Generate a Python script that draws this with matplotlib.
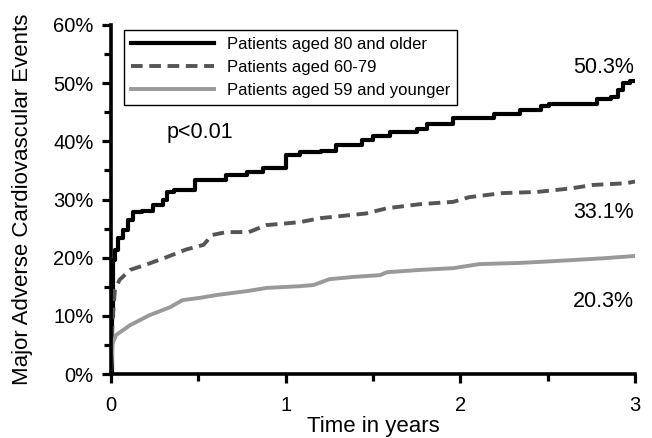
import matplotlib
matplotlib.use("Agg")
import matplotlib.pyplot as plt
from matplotlib.ticker import MultipleLocator, PercentFormatter

plt.rcParams['font.family'] = ['Liberation Sans', 'DejaVu Sans']

# patients aged 80 and older
t_old = [0, 0.005, 0.01, 0.023, 0.04, 0.07, 0.10, 0.126, 0.18, 0.24, 0.30, 0.32, 0.36, 0.48, 0.64,
         0.66, 0.78, 0.87, 0.97, 1.0, 1.08, 1.2, 1.29, 1.44, 1.50, 1.60, 1.75, 1.81, 1.96, 2.17, 2.19,
         2.34, 2.46, 2.51, 2.76, 2.78, 2.86, 2.90, 2.93, 2.97, 3.0]
y_old = [0, 10, 19.6, 21.3, 23.4, 24.7, 26.5, 27.8, 28.0, 29.0, 29.9, 31.3, 31.6, 33.3, 33.3,
         34.2, 34.7, 35.4, 35.5, 37.6, 38.1, 38.4, 39.3, 40.2, 41.0, 41.6, 42.2, 42.9, 44.0, 44.0, 44.7,
         45.4, 46.0, 46.5, 46.5, 47.2, 47.6, 48.8, 50.0, 50.3, 50.3]

# patients aged 60-79
t_mid = [0, 0.005, 0.01, 0.023, 0.05, 0.11, 0.22, 0.32, 0.43, 0.53, 0.58, 0.66, 0.79, 0.89, 1.08,
         1.2, 1.46, 1.58, 1.77, 1.96, 2.05, 2.24, 2.44, 2.63, 2.76, 2.95, 3.0]
y_mid = [0, 5, 9.3, 14.4, 16.2, 17.9, 19.0, 20.1, 21.4, 22.2, 23.9, 24.4, 24.4, 25.6, 26.1,
         26.8, 27.6, 28.5, 29.2, 29.6, 30.4, 31.1, 31.3, 31.9, 32.5, 32.8, 33.1]

# patients aged 59 and younger
t_young = [0, 0.005, 0.01, 0.03, 0.11, 0.22, 0.34, 0.41, 0.51, 0.61, 0.79, 0.89, 1.08, 1.16,
           1.25, 1.39, 1.54, 1.58, 1.77, 1.96, 2.11, 2.34, 2.53, 2.82, 3.0]
y_young = [0, 2.4, 5.3, 6.7, 8.4, 10.1, 11.5, 12.7, 13.1, 13.6, 14.3, 14.8, 15.1, 15.3,
           16.3, 16.7, 17.0, 17.5, 17.9, 18.2, 18.9, 19.1, 19.4, 19.9, 20.3]

fig = plt.figure(figsize=(6.52, 4.38), dpi=100)
ax = fig.add_axes([0.170, 0.146, 0.804, 0.797])

ax.plot(t_old, y_old, color="black", lw=3.0, drawstyle="steps-post", label="Patients aged 80 and older")
ax.plot(t_mid, y_mid, color="#555555", lw=2.8, linestyle=(0, (3.0, 1.7)), label="Patients aged 60-79")
ax.plot(t_young, y_young, color="#999999", lw=2.8, label="Patients aged 59 and younger")

ax.set_xlim(0, 3)
ax.set_ylim(0, 60)
ax.xaxis.set_major_locator(MultipleLocator(1))
ax.xaxis.set_minor_locator(MultipleLocator(0.5))
ax.yaxis.set_major_locator(MultipleLocator(10))
ax.yaxis.set_minor_locator(MultipleLocator(5))
ax.yaxis.set_major_formatter(PercentFormatter(decimals=0))

for s in ["top", "right"]:
    ax.spines[s].set_visible(False)
for s in ["left", "bottom"]:
    ax.spines[s].set_linewidth(2.6)
ax.tick_params(which="major", length=6.5, width=2.3, labelsize=14.5, direction="out")
ax.tick_params(which="minor", length=5, width=2.3, direction="out")
ax.tick_params(axis="x", pad=9)
ax.tick_params(axis="y", pad=6)

ax.set_xlabel("Time in years", fontsize=16)
ax.set_ylabel("Major Adverse Cardiovascular Events", fontsize=16)
ax.xaxis.set_label_coords(0.5, -0.12)
ax.yaxis.set_label_coords(-0.149, 0.5)

ax.text(0.51, 41.6, "p<0.01", fontsize=15.5, ha="center", va="center")
ax.text(2.82, 52.7, "50.3%", fontsize=15.5, ha="center", va="center")
ax.text(2.82, 27.7, "33.1%", fontsize=15.5, ha="center", va="center")
ax.text(2.82, 12.4, "20.3%", fontsize=15.5, ha="center", va="center")

leg = ax.legend(loc="upper left", bbox_to_anchor=(0.025, 0.986), fontsize=12, fancybox=False,
                framealpha=1, edgecolor="black", handlelength=5.0, borderpad=0.4, labelspacing=0.5,
                borderaxespad=0)
leg.get_frame().set_linewidth(1.0)

fig.savefig("out.png", dpi=100)
